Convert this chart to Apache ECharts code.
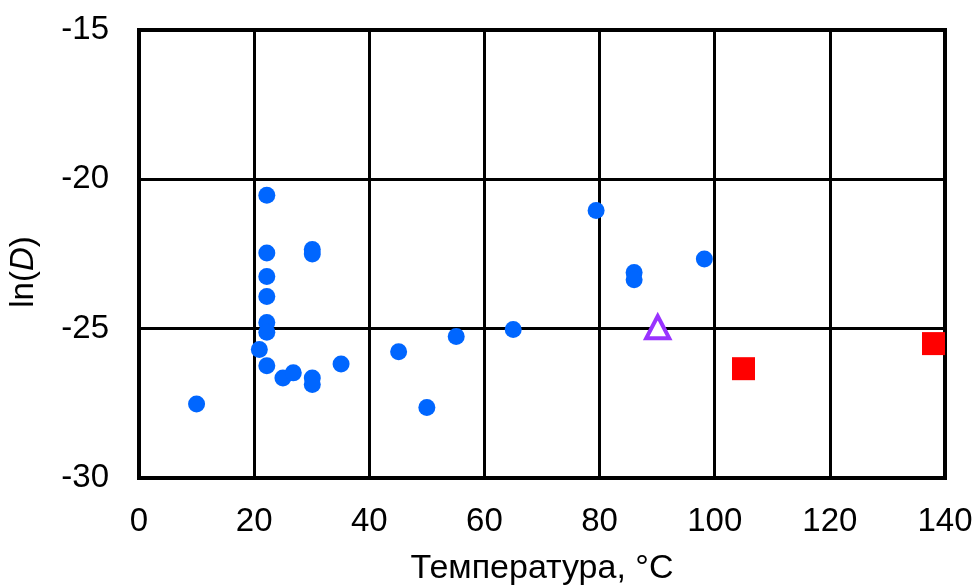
<!DOCTYPE html>
<html>
<head>
<meta charset="utf-8">
<script src="https://cdn.jsdelivr.net/npm/echarts@6/dist/echarts.min.js"></script>
<style>
html,body{margin:0;padding:0;background:#fff;}
#chart{width:976px;height:586px;}
</style>
</head>
<body>
<div id="chart"></div>
<script>
// Data
const blueT   = [10.0, 20.9, 22.2, 22.2, 22.2, 22.2, 22.2, 22.2, 22.2, 25.0, 26.8, 30.1, 30.1, 30.1, 30.1, 35.1, 45.1, 50.0, 55.1, 65.0, 79.4, 86.0, 86.0, 98.2];
const blueLnD = [-27.52, -25.70, -20.53, -22.47, -23.25, -23.92, -24.79, -25.12, -26.24, -26.65, -26.48, -22.35, -22.50, -26.65, -26.87, -26.18, -25.77, -27.64, -25.26, -25.03, -21.04, -23.12, -23.36, -22.67];
const purpleT   = [90.1];
const purpleLnD = [-24.95];
const redT   = [105.0, 138.0];
const redLnD = [-26.34, -25.50];
const xTicks = [0, 20, 40, 60, 80, 100, 120, 140];
const yTicks = [-30, -25, -20, -15];
const xTitle = 'Температура, °C';

const zip = (a, b) => a.map((v, i) => [v, b[i]]);
const font = '"Liberation Sans", Arial, sans-serif';

const chart = echarts.init(document.getElementById('chart'), null, {renderer: 'canvas'});
chart.setOption({
  backgroundColor: '#ffffff',
  animation: false,
  grid: {left: 139, right: 31, top: 30, bottom: 108, containLabel: false, outerBoundsMode: 'none',
         show: true, borderColor: '#000', borderWidth: 4, backgroundColor: 'transparent'},
  xAxis: {
    type: 'value', min: xTicks[0], max: xTicks[xTicks.length - 1], interval: 20,
    name: xTitle, nameLocation: 'middle', nameGap: 74,
    nameTextStyle: {fontFamily: font, fontSize: 34, color: '#000'},
    axisLine: {show: true, lineStyle: {color: '#000', width: 4}},
    axisTick: {show: false},
    axisLabel: {fontFamily: font, fontSize: 33, color: '#000', margin: 27},
    splitLine: {show: true, lineStyle: {color: '#000', width: 3}}
  },
  yAxis: {
    type: 'value', min: yTicks[0], max: yTicks[yTicks.length - 1], interval: 5,
    name: '{n|ln(}{i|D}{n|)}', nameLocation: 'middle', nameGap: 99, nameRotate: 90,
    nameTextStyle: {
      padding: [0, 36, 0, 0],
      rich: {
        n: {fontFamily: font, fontSize: 33, color: '#000'},
        i: {fontFamily: font, fontSize: 33, color: '#000', fontStyle: 'italic'}
      }
    },
    axisLine: {show: true, lineStyle: {color: '#000', width: 4}},
    axisTick: {show: false},
    axisLabel: {fontFamily: font, fontSize: 33, color: '#000', margin: 30},
    splitLine: {show: true, lineStyle: {color: '#000', width: 3}}
  },
  series: [
    {
      type: 'scatter', data: zip(blueT, blueLnD), symbol: 'circle', symbolSize: 17,
      itemStyle: {color: '#0066ff', opacity: 1}
    },
    {
      type: 'scatter', data: zip(purpleT, purpleLnD), symbol: 'triangle', symbolSize: [23, 22],
      itemStyle: {color: '#ffffff', borderColor: '#9933ff', borderWidth: 4, opacity: 1}
    },
    {
      type: 'scatter', data: zip(redT, redLnD), symbol: 'rect', symbolSize: 23,
      itemStyle: {color: '#ff0000', opacity: 1}
    }
  ]
});
</script>
</body>
</html>
